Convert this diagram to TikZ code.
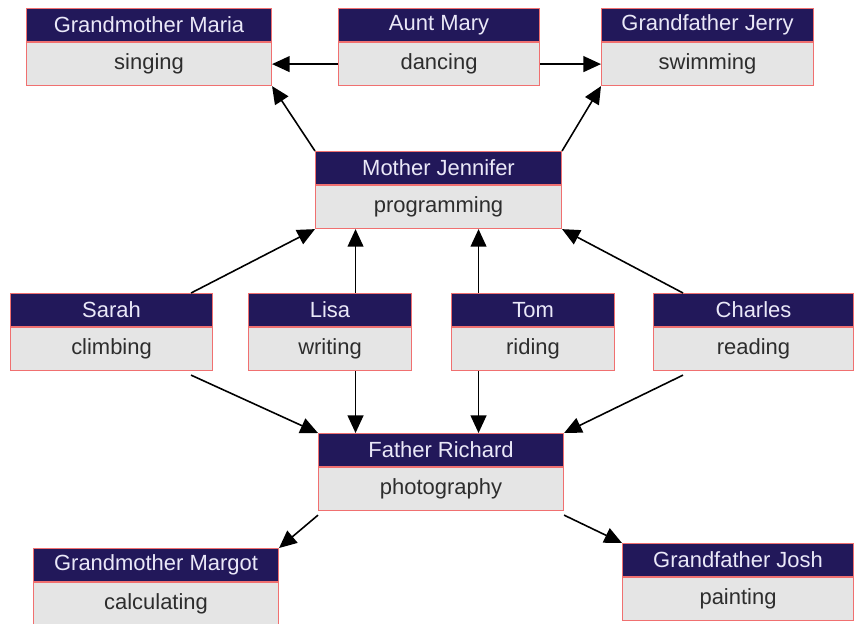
\documentclass[tikz,border=0pt]{standalone}
\usepackage{fontspec}
\setmainfont{Liberation Sans}
\usetikzlibrary{arrows.meta, positioning, calc}
\definecolor{cHead}{RGB}{34,24,90}
\definecolor{cBody}{RGB}{229,229,229}
\definecolor{cEdge}{RGB}{240,112,112}
\definecolor{cLight}{RGB}{234,232,248}
\definecolor{cInk}{RGB}{45,45,45}
\tikzset{
	headbox/.style={rectangle, draw=cEdge, line width=0.6pt, fill=cHead, text=cLight, minimum height=33*0.02cm, inner sep=0pt, font=\fontsize{12.5}{14}\selectfont, text centered},
	bodybox/.style={rectangle, draw=cEdge, line width=0.6pt, fill=cBody, text=cInk, minimum height=43*0.02cm, inner sep=0pt, font=\fontsize{12.5}{14}\selectfont, text centered},
	linkarrow/.style={-{Triangle[length=10pt, width=9pt]}, line width=0.9pt, draw=black},
}
\begin{document}
\begin{tikzpicture}[x=0.02cm, y=-0.02cm]
	\useasboundingbox (0,0) rectangle (854,623);
	% one header and one body box per person
	\foreach \id/\x/\y/\w/\who/\hob in {
		maria/26/8/245/Grandmother Maria/singing,
		mary/338/8/201/Aunt Mary/dancing,
		jerry/601/8/212/Grandfather Jerry/swimming,
		jennifer/315/151/246/Mother Jennifer/programming,
		sarah/10/293/202/Sarah/climbing,
		lisa/248/293/163/Lisa/writing,
		tom/451/293/163/Tom/riding,
		charles/653/293/200/Charles/reading,
		richard/318/433/245/Father Richard/photography,
		margot/33/548/245/Grandmother Margot/calculating,
		josh/622/543/231/Grandfather Josh/painting} {
		\node[headbox, minimum width=\w*0.02cm, anchor=north west] (\id-h) at (\x,\y) {\who};
		\node[bodybox, minimum width=\w*0.02cm, below=0pt of \id-h] (\id) {\hob};
	}
	% top row
	\draw[linkarrow] (mary.west) -- (maria.east);
	\draw[linkarrow] (mary.east) -- (jerry.west);
	\draw[linkarrow] (jennifer-h.north west) -- (maria.south east);
	\draw[linkarrow] (jennifer-h.north east) -- (jerry.south west);
	% children up to mother
	\draw[linkarrow] ([shift={(-22,0)}]sarah-h.north east) -- (jennifer.south west);
	\draw[linkarrow] ([shift={(25.5,0)}]lisa-h.north) -- ([shift={(25.5,0)}]lisa-h.north |- jennifer.south);
	\draw[linkarrow] ([shift={(-54.5,0)}]tom-h.north) -- ([shift={(-54.5,0)}]tom-h.north |- jennifer.south);
	\draw[linkarrow] ([shift={(30,0)}]charles-h.north west) -- (jennifer.south east);
	% children down to father
	\draw[linkarrow] ([shift={(-22,4)}]sarah.south east) -- (richard-h.north west);
	\draw[linkarrow] ([shift={(25.5,0)}]lisa.south) -- ([shift={(25.5,0)}]lisa.south |- richard-h.north);
	\draw[linkarrow] ([shift={(-54.5,0)}]tom.south) -- ([shift={(-54.5,0)}]tom.south |- richard-h.north);
	\draw[linkarrow] ([shift={(30,4)}]charles.south west) -- (richard-h.north east);
	% father to his parents
	\draw[linkarrow] ([shift={(0,4)}]richard.south west) -- (margot-h.north east);
	\draw[linkarrow] ([shift={(0,4)}]richard.south east) -- (josh-h.north west);
\end{tikzpicture}
\end{document}
